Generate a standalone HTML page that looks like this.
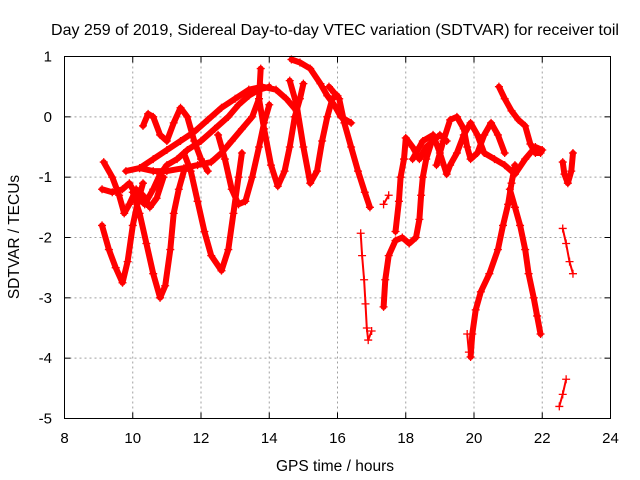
<!DOCTYPE html>
<html><head><meta charset="utf-8"><style>
body{margin:0;background:#fff;}
svg{display:block;font-family:"Liberation Sans",sans-serif;}
</style></head><body>
<svg id="chart" width="640" height="480" viewBox="0 0 640 480">
<rect width="640" height="480" fill="#fff"/>
<text x="335" y="35" font-size="16" text-anchor="middle" fill="#000">Day 259 of 2019, Sidereal Day-to-day VTEC variation (SDTVAR) for receiver toil</text>
<g id="grid"></g>
<g id="ticks"></g>
<g id="series"></g>
<rect x="64.5" y="56.5" width="546" height="362" fill="none" stroke="#000" stroke-width="1"/>
<text x="335" y="471" font-size="15.5" text-anchor="middle">GPS time / hours</text>
<text x="0" y="0" font-size="15.5" text-anchor="middle" transform="translate(19,237) rotate(-90)">SDTVAR / TECUs</text>
</svg>
<script>
const xTicks = [8,10,12,14,16,18,20,22,24];
const yTicks = [1,0,-1,-2,-3,-4,-5];
const track1 = [[9.15,-0.75],[9.4,-1.0],[9.6,-1.3],[9.75,-1.6],[9.9,-1.45],[10.1,-1.2],[10.3,-1.3],[10.5,-1.5],[10.7,-1.35],[10.9,-1.0]];
const track2 = [[9.1,-1.2],[9.4,-1.25],[9.7,-1.2],[9.9,-1.1],[10.1,-1.3],[10.35,-1.45],[10.6,-1.2],[10.8,-0.95],[11.0,-0.8],[11.3,-0.7],[11.6,-0.55],[12.0,-0.4],[12.4,-0.2],[12.8,0.0],[13.1,0.2],[13.4,0.35],[13.7,0.45],[14.0,0.5]];
const track3 = [[9.8,-0.9],[10.2,-0.85],[10.6,-0.7],[11.0,-0.55],[11.4,-0.4],[11.8,-0.25],[12.2,-0.05],[12.6,0.15],[13.0,0.3],[13.4,0.45],[13.8,0.5],[14.2,0.45],[14.5,0.3],[14.8,0.1]];
const track4 = [[10.2,-0.85],[10.6,-0.9],[11.0,-0.9],[11.5,-0.85],[11.9,-0.8],[12.3,-0.75],[12.6,-0.6],[12.9,-0.4],[13.2,-0.2],[13.5,0.0],[13.7,0.3],[13.75,0.8]];
const track5 = [[10.3,-0.15],[10.45,0.05],[10.6,0.0],[10.8,-0.3],[11.0,-0.4],[11.2,-0.1],[11.4,0.15],[11.6,0.0],[11.8,-0.4],[12.0,-0.7],[12.2,-0.9]];
const track6 = [[9.1,-1.8],[9.3,-2.2],[9.5,-2.5],[9.7,-2.75],[9.85,-2.4],[10.0,-1.8],[10.15,-1.4],[10.3,-1.1]];
const track7 = [[10.0,-1.25],[10.2,-1.6],[10.4,-2.1],[10.6,-2.6],[10.8,-3.0],[10.95,-2.8],[11.1,-2.2],[11.2,-1.6],[11.35,-1.2],[11.5,-0.9]];
const track8 = [[11.5,-0.6],[11.7,-0.9],[11.9,-1.4],[12.1,-1.9],[12.3,-2.3],[12.6,-2.55],[12.8,-2.2],[12.95,-1.6],[13.1,-1.0],[13.2,-0.6]];
const track9 = [[12.5,-0.3],[12.7,-0.7],[12.9,-1.2],[13.1,-1.45],[13.3,-1.4],[13.5,-1.0],[13.7,-0.5],[13.85,-0.1],[14.0,0.2]];
const track10 = [[13.7,0.3],[13.85,-0.2],[14.05,-0.8],[14.25,-1.15],[14.45,-0.9],[14.6,-0.5],[14.75,0.0],[14.9,0.3],[15.0,0.55]];
const track11 = [[14.6,0.6],[14.8,0.2],[15.0,-0.5],[15.2,-1.1],[15.4,-0.9],[15.55,-0.4],[15.7,0.0],[15.85,0.3],[16.0,0.35]];
const track12 = [[14.65,0.95],[14.9,0.9],[15.2,0.8],[15.5,0.55],[15.7,0.35],[15.9,0.2],[16.1,0.0],[16.4,-0.1]];
const track13 = [[15.75,0.5],[15.9,0.4],[16.05,0.3],[16.2,-0.1],[16.4,-0.5],[16.6,-0.9],[16.8,-1.25],[16.95,-1.5]];
const track14 = [[16.68,-1.93],[16.72,-2.3],[16.78,-2.7],[16.82,-3.1],[16.86,-3.5],[16.9,-3.7],[17.0,-3.55]];
const track15 = [[17.35,-1.45],[17.5,-1.3]];
const track16 = [[17.35,-3.15],[17.4,-2.7],[17.5,-2.3],[17.7,-2.05],[17.9,-2.0],[18.1,-2.1],[18.3,-2.0],[18.4,-1.7],[18.45,-1.3],[18.5,-1.0],[18.6,-0.7],[18.75,-0.43]];
const track17 = [[17.7,-1.9],[17.8,-1.4],[17.85,-1.0],[17.95,-0.7],[18.0,-0.35],[18.2,-0.5],[18.4,-0.7],[18.6,-0.5],[18.8,-0.4],[19.0,-0.3],[19.2,-0.4]];
const track18 = [[18.2,-0.7],[18.5,-0.4],[18.8,-0.3],[19.0,-0.6],[19.2,-0.95],[19.3,-0.8],[19.5,-0.6],[19.7,-0.3],[19.9,-0.1],[20.1,-0.3],[20.3,-0.6],[20.6,-0.7],[20.9,-0.8],[21.2,-0.95],[21.5,-0.7],[21.8,-0.5],[22.0,-0.55]];
const track19 = [[18.9,-0.8],[19.1,-0.4],[19.3,-0.05],[19.5,0.0],[19.7,-0.2],[19.8,-0.5],[19.9,-0.7],[20.1,-0.6],[20.3,-0.3],[20.5,-0.1],[20.7,-0.3],[20.9,-0.6]];
const track20 = [[20.73,0.5],[20.9,0.3],[21.1,0.1],[21.3,-0.05],[21.5,-0.15],[21.65,-0.45],[21.8,-0.6],[21.95,-0.6]];
const track21 = [[19.9,-3.98],[19.95,-3.6],[20.05,-3.2],[20.2,-2.9],[20.45,-2.6],[20.7,-2.2],[20.85,-1.8],[21.0,-1.45],[21.1,-1.1],[21.2,-0.8]];
const track22 = [[21.05,-1.2],[21.2,-1.5],[21.35,-1.8],[21.5,-2.2],[21.6,-2.6],[21.75,-3.0],[21.85,-3.3],[21.95,-3.6]];
const track23 = [[19.8,-3.6],[19.85,-3.9]];
const track24 = [[22.6,-0.75],[22.65,-0.95],[22.75,-1.1],[22.85,-0.9],[22.9,-0.6]];
const track25 = [[22.6,-1.85],[22.7,-2.1],[22.8,-2.4],[22.9,-2.6]];
const track26 = [[22.5,-4.8],[22.6,-4.6],[22.7,-4.35]];
const denseTracks = [track1,track2,track3,track4,track5,track6,track7,track8,track9,track10,track11,track12,track13,track16,track17,track18,track19,track20,track21,track22,track24];
const sparseTracks = [track14,track15,track23,track25,track26];

const NS = 'http://www.w3.org/2000/svg';
const X0 = 64.5, X1 = 610.5, Y0 = 56.5, Y1 = 418.5;
function xs(h){ return X0 + (h - 8) / 16 * (X1 - X0); }
function ys(v){ return Y0 + (1 - v) / 6 * (Y1 - Y0); }
function mk(tag, attrs, parent){ const e = document.createElementNS(NS, tag); for (const k in attrs) e.setAttribute(k, attrs[k]); parent.appendChild(e); return e; }

const grid = document.getElementById('grid');
const ticks = document.getElementById('ticks');
xTicks.forEach(t => {
  const x = xs(t);
  if (t > 8 && t < 24) {
    const g = mk('line', {x1:x, x2:x, y1:Y0, y2:Y1, stroke:'#a0a0a0', 'stroke-dasharray':'2,3'}, grid);
    
    
  }
  const tk = mk('line', {x1:x, x2:x, y1:Y1, y2:Y1-6, stroke:'#000'}, ticks);
  
  
  const tk2 = mk('line', {x1:x, x2:x, y1:Y0, y2:Y0+6, stroke:'#000'}, ticks);
  
  
  const lb = mk('text', {x:x, y:443, 'font-size':15, 'text-anchor':'middle'}, ticks);
  lb.textContent = t;
  
  
});
yTicks.forEach(t => {
  const y = ys(t);
  if (t < 1 && t > -5) {
    const g = mk('line', {x1:X0, x2:X1, y1:y, y2:y, stroke:'#a0a0a0', 'stroke-dasharray':'2,3'}, grid);
    
    
  }
  const tk = mk('line', {x1:X0, x2:X0+6, y1:y, y2:y, stroke:'#000'}, ticks);
  
  
  const tk2 = mk('line', {x1:X1, x2:X1-6, y1:y, y2:y, stroke:'#000'}, ticks);
  
  
  const lb = mk('text', {x:52, y:y+5, 'font-size':15, 'text-anchor':'end'}, ticks);
  lb.textContent = t;
  
  
});

const series = document.getElementById('series');
function drawTrack(tr, dense){
  const pts = tr.map(p => xs(p[0]).toFixed(1) + ',' + ys(p[1]).toFixed(1)).join(' ');
  if (dense) {
    const pl = mk('polyline', {points:pts, fill:'none', stroke:'#ff0000', 'stroke-width':6, 'stroke-linejoin':'round', 'stroke-linecap':'round'}, series);
    
    
  } else {
    const pl = mk('polyline', {points:pts, fill:'none', stroke:'#ff0000', 'stroke-width':2}, series);
    
    
  }
  tr.forEach(p => {
    const x = xs(p[0]), y = ys(p[1]);
    const m = mk('path', {d:`M${x-4},${y}H${x+4}M${x},${y-4}V${y+4}`, stroke:'#ff0000', 'stroke-width':1.3, fill:'none'}, series);
    
    
  });
}
denseTracks.forEach(t => drawTrack(t, true));
sparseTracks.forEach(t => drawTrack(t, false));
</script>
</body></html>
